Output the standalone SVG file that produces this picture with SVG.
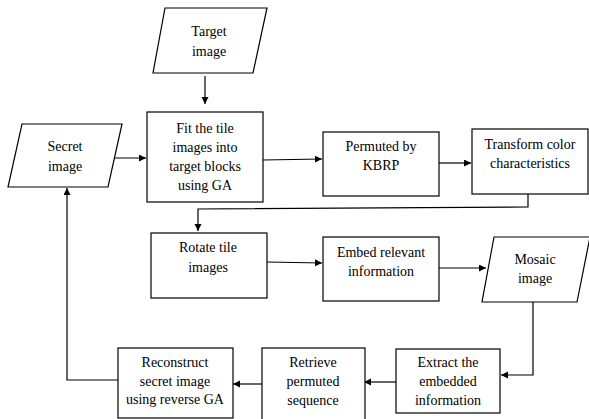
<svg xmlns="http://www.w3.org/2000/svg" width="589" height="419" viewBox="0 0 589 419" font-family="Liberation Serif, Times New Roman, DejaVu Serif, serif" font-size="14" text-anchor="middle">
<style>
.s{fill:#fff;stroke:#000;stroke-width:1.2}
.c{fill:none;stroke:#000;stroke-width:1.2}
</style>
<defs>
<marker id="a" markerUnits="userSpaceOnUse" markerWidth="8" markerHeight="8" refX="7" refY="3.5" orient="auto">
<path d="M0,0 L7,3.5 L0,7 z" fill="#000"/>
</marker>
</defs>
<rect width="589" height="419" fill="#fff"/>
<g id="connectors">
<path class="c" d="M205,76 V104" marker-end="url(#a)"/>
<path class="c" d="M110,158 H146" marker-end="url(#a)"/>
<path class="c" d="M263,160 L322,159" marker-end="url(#a)"/>
<path class="c" d="M439,163 H471" marker-end="url(#a)"/>
<path class="c" d="M528,194 V207 L198,209 V231" marker-end="url(#a)"/>
<path class="c" d="M267,262 L322,263" marker-end="url(#a)"/>
<path class="c" d="M439,268 H486" marker-end="url(#a)"/>
<path class="c" d="M533,302 V375 H501" marker-end="url(#a)"/>
<path class="c" d="M396,382 H364" marker-end="url(#a)"/>
<path class="c" d="M262,384 H233" marker-end="url(#a)"/>
<path class="c" d="M118,380 H67 V188" marker-end="url(#a)"/>
</g>
<g id="target">
<polygon class="s" points="165,8 267,8 253,73 153,73"/>
<text x="209" y="36">Target</text>
<text x="209" y="56">image</text>
</g>
<g id="secret">
<polygon class="s" points="22,124 122,124 108,187 8,187"/>
<text x="65" y="151">Secret</text>
<text x="65" y="171">image</text>
</g>
<g id="fit">
<rect class="s" x="147" y="112" width="116" height="90"/>
<text x="205" y="133">Fit the tile</text>
<text x="205" y="152">images into</text>
<text x="205" y="171">target blocks</text>
<text x="205" y="190">using GA</text>
</g>
<g id="permuted">
<rect class="s" x="323" y="132" width="116" height="64"/>
<text x="381" y="151">Permuted by</text>
<text x="381" y="170">KBRP</text>
</g>
<g id="transform">
<rect class="s" x="472" y="129" width="116" height="65"/>
<text x="530" y="149">Transform color</text>
<text x="530" y="168">characteristics</text>
</g>
<g id="rotate">
<rect class="s" x="151" y="233" width="116" height="65"/>
<text x="208" y="252">Rotate tile</text>
<text x="208" y="272">images</text>
</g>
<g id="embed">
<rect class="s" x="323" y="237" width="116" height="64"/>
<text x="381" y="257">Embed relevant</text>
<text x="381" y="276">information</text>
</g>
<g id="mosaic">
<polygon class="s" points="494,237 590,237 577,302 482,302"/>
<text x="535" y="264">Mosaic</text>
<text x="535" y="283">image</text>
</g>
<g id="extract">
<rect class="s" x="396" y="349" width="104" height="64"/>
<text x="448" y="367">Extract the</text>
<text x="448" y="386">embedded</text>
<text x="448" y="405">information</text>
</g>
<g id="retrieve">
<rect class="s" x="262" y="348" width="103" height="75"/>
<text x="313" y="367">Retrieve</text>
<text x="313" y="386">permuted</text>
<text x="313" y="405">sequence</text>
</g>
<g id="reconstruct">
<rect class="s" x="118" y="348" width="115" height="70"/>
<text x="175" y="367">Reconstruct</text>
<text x="175" y="386">secret image</text>
<text x="175" y="404">using reverse GA</text>
</g>
</svg>
